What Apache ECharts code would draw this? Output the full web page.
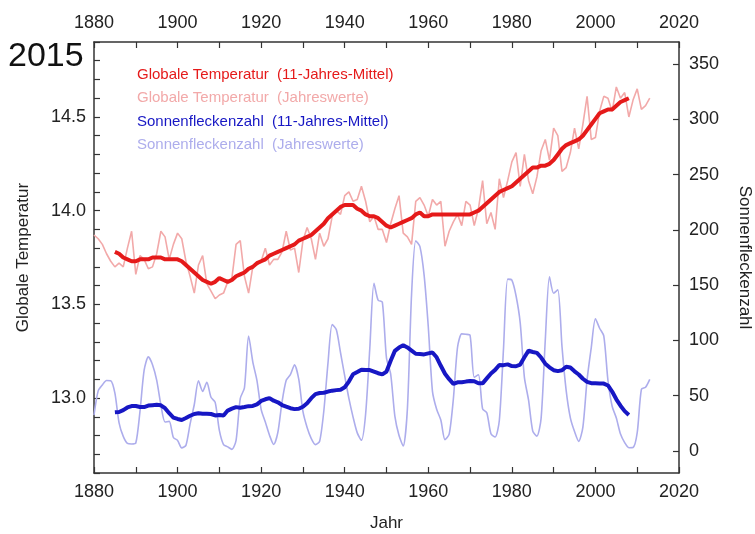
<!DOCTYPE html>
<html>
<head>
<meta charset="utf-8">
<script src="https://cdn.jsdelivr.net/npm/echarts@6/dist/echarts.min.js"></script>
<style>
  html, body { margin: 0; padding: 0; background: #fff; }
  #chart { width: 755px; height: 534px; }
</style>
</head>
<body>
<div id="chart"></div>
<script>
// Jahreswerte ab 1880, 11-Jahres-Mittel ab 1885
var firstYearAnnual = 1880;
var firstYearMean = 1885;

// Globale Temperatur (Jahreswerte), °C
var tempAnnual = [
  13.87, 13.85, 13.82, 13.77, 13.73, 13.70, 13.72, 13.70, 13.80, 13.89,
  13.66, 13.76, 13.74, 13.69, 13.70, 13.77, 13.89, 13.86, 13.74, 13.82,
  13.88, 13.85, 13.73, 13.65, 13.56, 13.71, 13.76, 13.61, 13.57, 13.53,
  13.55, 13.56, 13.62, 13.64, 13.82, 13.84, 13.65, 13.56, 13.70, 13.71,
  13.73, 13.80, 13.71, 13.74, 13.74, 13.78, 13.89, 13.79, 13.80, 13.67,
  13.84, 13.91, 13.85, 13.74, 13.88, 13.81, 13.85, 13.97, 14.00, 13.98,
  14.08, 14.10, 14.05, 14.06, 14.13, 14.05, 13.94, 13.97, 13.90, 13.90,
  13.83, 13.93, 14.01, 14.08, 13.88, 13.86, 13.82, 14.05, 14.07, 14.03,
  13.97, 14.06, 14.03, 14.05, 13.81, 13.89, 13.94, 13.98, 13.92, 14.05,
  14.03, 13.92, 14.01, 14.16, 13.93, 13.99, 13.90, 14.17, 14.07, 14.16,
  14.26, 14.31, 14.13, 14.30, 14.16, 14.09, 14.18, 14.32, 14.38, 14.27,
  14.44, 14.40, 14.21, 14.23, 14.31, 14.44, 14.33, 14.46, 14.61, 14.38,
  14.39, 14.53, 14.61, 14.60, 14.53, 14.66, 14.60, 14.63, 14.50, 14.59,
  14.65, 14.54, 14.56, 14.60
];

// Globale Temperatur (11-Jahres-Mittel), 1885-2008
var tempMean = [
  13.78, 13.77, 13.75, 13.74, 13.73, 13.73, 13.74, 13.74, 13.74, 13.75,
  13.75, 13.75, 13.74, 13.74, 13.74, 13.74, 13.73, 13.71, 13.69, 13.67,
  13.65, 13.63, 13.62, 13.61, 13.62, 13.64, 13.63, 13.62, 13.63, 13.65,
  13.66, 13.67, 13.69, 13.70, 13.72, 13.73, 13.74, 13.76, 13.77, 13.78,
  13.79, 13.80, 13.81, 13.82, 13.84, 13.85, 13.86, 13.87, 13.89, 13.91,
  13.93, 13.96, 13.98, 14.00, 14.02, 14.03, 14.03, 14.03, 14.01, 14.00,
  13.98, 13.97, 13.97, 13.96, 13.94, 13.92, 13.91, 13.92, 13.93, 13.94,
  13.95, 13.96, 13.98, 13.99, 13.97, 13.97, 13.98, 13.98, 13.98, 13.98,
  13.98, 13.98, 13.98, 13.98, 13.98, 13.98, 13.99, 14.00, 14.02, 14.04,
  14.06, 14.08, 14.10, 14.11, 14.12, 14.13, 14.15, 14.17, 14.19, 14.21,
  14.23, 14.23, 14.24, 14.24, 14.25, 14.27, 14.30, 14.33, 14.35, 14.36,
  14.37, 14.38, 14.40, 14.43, 14.46, 14.49, 14.52, 14.53, 14.54, 14.54,
  14.56, 14.58, 14.59, 14.60
];

// Sonnenfleckenzahl (Jahreswerte)
var sunAnnual = [
  32.3, 54.3, 59.7, 63.7, 63.5, 52.2, 25.4, 13.1, 6.8, 6.3,
  7.1, 35.6, 73.0, 85.1, 78.0, 64.0, 41.8, 26.2, 26.7, 12.1,
  9.5, 2.7, 5.0, 24.4, 42.0, 63.5, 53.8, 62.0, 48.5, 43.9,
  18.6, 5.7, 3.6, 1.4, 9.6, 47.4, 57.1, 103.9, 80.6, 63.6,
  37.6, 26.1, 14.2, 5.8, 16.7, 44.3, 63.9, 69.0, 77.8, 64.9,
  35.7, 21.2, 11.1, 5.7, 8.7, 36.1, 79.7, 114.4, 109.6, 88.8,
  67.8, 47.5, 30.6, 16.3, 9.6, 33.2, 92.6, 151.6, 136.3, 134.7,
  83.9, 69.4, 31.5, 13.9, 4.4, 38.0, 141.7, 190.2, 184.8, 159.0,
  112.3, 53.9, 37.6, 27.9, 10.2, 15.1, 47.0, 93.8, 105.9, 105.5,
  104.5, 66.6, 68.9, 38.0, 34.5, 15.5, 12.6, 27.5, 92.5, 155.4,
  154.6, 140.4, 115.9, 66.6, 45.9, 17.9, 13.4, 29.4, 100.2, 157.6,
  142.6, 145.7, 94.3, 54.6, 29.9, 17.5, 8.6, 21.5, 64.3, 93.3,
  119.6, 111.0, 104.0, 63.7, 40.4, 29.8, 15.2, 7.5, 2.9, 3.1,
  16.5, 55.7, 57.6, 64.7
];

// Sonnenfleckenzahl (11-Jahres-Mittel), 1885-2008
var sunMean = [
  34.9, 35.2, 36.9, 39.3, 40.6, 40.6, 39.7, 39.7, 41.0, 41.4,
  41.7, 41.3, 38.6, 34.1, 30.2, 28.9, 28.0, 29.8, 31.8, 33.4,
  34.0, 33.6, 33.7, 33.4, 32.1, 32.5, 32.0, 36.5, 38.2, 39.6,
  39.0, 39.7, 40.5, 40.7, 42.1, 45.2, 46.7, 47.8, 45.4, 44.0,
  41.5, 40.0, 38.6, 37.8, 38.1, 39.9, 43.1, 47.7, 51.4, 52.4,
  52.6, 53.7, 54.5, 55.0, 55.4, 57.6, 62.7, 69.3, 71.3, 73.5,
  73.1, 73.2, 71.8, 70.3, 69.2, 71.8, 81.6, 90.5, 93.5, 95.6,
  93.6, 90.8, 87.9, 87.6, 87.3, 88.2, 89.1, 84.7, 77.0, 69.8,
  64.9, 60.7, 62.1, 62.1, 62.7, 63.2, 63.0, 61.2, 61.1, 65.6,
  70.1, 73.3, 77.8, 77.6, 78.3, 76.8, 76.6, 78.1, 84.7, 90.7,
  89.5, 88.7, 84.5, 78.9, 75.6, 73.0, 72.2, 72.9, 76.1, 75.4,
  72.0, 69.1, 65.3, 62.5, 61.3, 61.2, 61.0, 60.9, 59.2, 53.7,
  46.7, 40.9, 36.0, 32.5
];

var sunTicks = [0, 50, 100, 150, 200, 250, 300, 350];

var legendNames = [
  'Globale Temperatur  (11-Jahres-Mittel)',
  'Globale Temperatur  (Jahreswerte)',
  'Sonnenfleckenzahl  (11-Jahres-Mittel)',
  'Sonnenfleckenzahl  (Jahreswerte)'
];

var colTempMean = '#e51a1a';
var colTempYear = '#f2a9a9';
var colSunMean = '#1717c4';
var colSunYear = '#adadec';

function pairs(start, values) {
  return values.map(function (v, i) { return [start + i, v]; });
}

var chart = echarts.init(document.getElementById('chart'));
var FONT = 'Liberation Sans, Arial, sans-serif';
var axisCol = '#333';

var xBase = {
  type: 'value',
  min: 1880,
  max: 2020,
  interval: 10,
  axisLine: { show: true, onZero: false, lineStyle: { color: axisCol, width: 1.5 } },
  axisTick: { show: true, inside: true, length: 6, lineStyle: { color: axisCol, width: 1.2 } },
  splitLine: { show: false },
  axisLabel: {
    color: '#222', fontSize: 18, fontFamily: FONT, margin: 10,
    formatter: function (v) { return v % 20 === 0 ? String(v) : ''; }
  }
};

chart.setOption({
  animation: false,
  backgroundColor: '#fff',
  grid: { left: 94, right: 76, top: 42, bottom: 61, containLabel: false, outerBoundsMode: 'none' },
  graphic: [{
    type: 'text', left: 8, top: 40,
    style: { text: '2015', fontSize: 34, fontFamily: FONT, fill: '#111' }
  }],
  legend: {
    orient: 'vertical',
    left: 127,
    top: 62,
    icon: 'none',
    itemWidth: 0,
    itemHeight: 14,
    itemGap: 8.5,
    selectedMode: false,
    textStyle: { fontSize: 15, fontFamily: FONT },
    data: [
      { name: legendNames[0], textStyle: { color: colTempMean } },
      { name: legendNames[1], textStyle: { color: colTempYear } },
      { name: legendNames[2], textStyle: { color: colSunMean } },
      { name: legendNames[3], textStyle: { color: colSunYear } }
    ]
  },
  xAxis: [
    Object.assign({}, xBase, {
      position: 'bottom',
      name: 'Jahr', nameLocation: 'middle', nameGap: 42,
      nameTextStyle: { fontSize: 17, fontFamily: FONT, color: '#222' }
    }),
    Object.assign({}, xBase, { position: 'top' })
  ],
  yAxis: [
    {
      type: 'value',
      position: 'left',
      min: 12.6,
      max: 14.9,
      interval: 0.1,
      name: 'Globale Temperatur', nameLocation: 'middle', nameGap: 62,
      nameTextStyle: { fontSize: 17, fontFamily: FONT, color: '#222' },
      axisLine: { show: true, lineStyle: { color: axisCol, width: 1.5 } },
      axisTick: { show: true, inside: true, length: 6, lineStyle: { color: axisCol, width: 1.2 } },
      splitLine: { show: false },
      axisLabel: {
        color: '#222', fontSize: 18, fontFamily: FONT, margin: 8,
        formatter: function (v) {
          var d = v * 2;
          return Math.abs(d - Math.round(d)) < 1e-6 && v > 12.65 && v < 14.85 ? v.toFixed(1) : '';
        }
      }
    },
    {
      type: 'value',
      position: 'right',
      min: -20,
      max: 370,
      name: 'Sonnenfleckenzahl', nameLocation: 'middle', nameGap: 57, nameRotate: -90,
      nameTextStyle: { fontSize: 17, fontFamily: FONT, color: '#222' },
      axisLine: { show: true, lineStyle: { color: axisCol, width: 1.5 } },
      axisTick: { show: true, inside: true, length: 6, customValues: sunTicks, lineStyle: { color: axisCol, width: 1.2 } },
      splitLine: { show: false },
      axisLabel: { color: '#222', fontSize: 18, fontFamily: FONT, margin: 10, customValues: sunTicks }
    }
  ],
  series: [
    {
      name: legendNames[1], type: 'line', xAxisIndex: 0, yAxisIndex: 0,
      showSymbol: false, symbol: 'none',
      lineStyle: { color: colTempYear, width: 1.6 }, itemStyle: { color: colTempYear },
      data: pairs(firstYearAnnual, tempAnnual), z: 2
    },
    {
      name: legendNames[3], type: 'line', xAxisIndex: 0, yAxisIndex: 1,
      showSymbol: false, symbol: 'none', smooth: 0.25,
      lineStyle: { color: colSunYear, width: 1.6 }, itemStyle: { color: colSunYear },
      data: pairs(firstYearAnnual, sunAnnual), z: 2
    },
    {
      name: legendNames[0], type: 'line', xAxisIndex: 0, yAxisIndex: 0,
      showSymbol: false, symbol: 'none',
      lineStyle: { color: colTempMean, width: 4 }, itemStyle: { color: colTempMean },
      data: pairs(firstYearMean, tempMean), z: 3
    },
    {
      name: legendNames[2], type: 'line', xAxisIndex: 0, yAxisIndex: 1,
      showSymbol: false, symbol: 'none',
      lineStyle: { color: colSunMean, width: 4 }, itemStyle: { color: colSunMean },
      data: pairs(firstYearMean, sunMean), z: 3
    }
  ]
});
</script>
</body>
</html>
